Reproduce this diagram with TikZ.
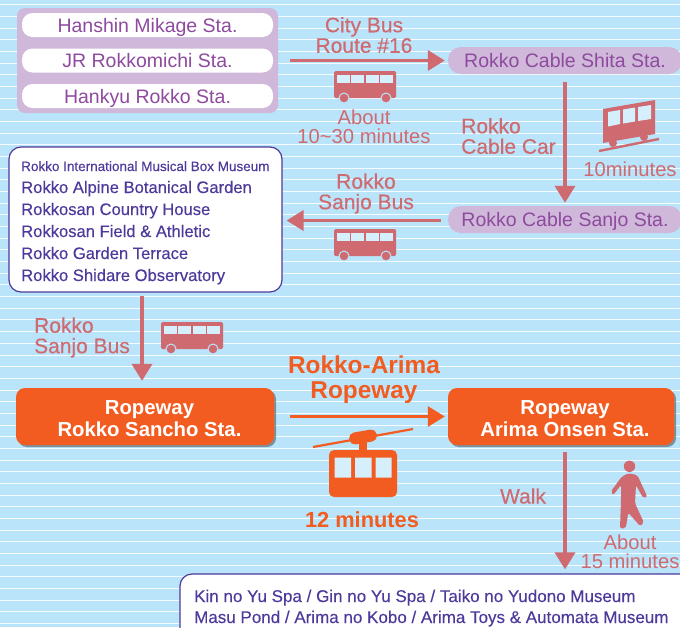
\documentclass[tikz,border=0pt]{standalone}
\usepackage{fontspec}
\setmainfont{Liberation Sans}
\newfontfamily\medf[FakeBold=0.25]{Liberation Sans}
\newfontfamily\boldf{Liberation Sans Bold}
\usetikzlibrary{arrows.meta,shadows,calc}
\definecolor{sky}{HTML}{B9E4FA}
\definecolor{lilac}{HTML}{CFB8D9}
\definecolor{plum}{HTML}{8E4A9E}
\definecolor{rose}{HTML}{CF6A70}
\definecolor{ink}{HTML}{4F3A9C}
\definecolor{flame}{HTML}{F25C20}
\tikzset{
  pill/.style={rounded corners=10.5pt,inner sep=0pt,text=plum,font=\fontsize{19.5}{19.5}\selectfont,anchor=center,text height=18pt,text depth=4pt},
  whitepill/.style={pill,fill=white,minimum width=251pt,minimum height=24pt},
  lilacpill/.style={pill,fill=lilac,minimum width=234pt,minimum height=27pt,rounded corners=13pt},
  panelbox/.style={fill=lilac,rounded corners=8pt,minimum width=261pt,minimum height=105pt,inner sep=0pt},
  conn/.style={draw=rose,line width=3.6pt,-{Triangle[width=20pt,length=17pt]}},
  oconn/.style={draw=flame,line width=3pt,-{Triangle[width=20pt,length=17pt]}},
  lab/.style={text=rose,align=center,font=\medf\fontsize{21}{20.5}\selectfont,inner sep=0pt},
  sublab/.style={text=rose,align=center,font=\fontsize{20.2}{19.5}\selectfont,inner sep=0pt},
  olab/.style={text=flame,align=center,font=\boldf\fontsize{24.4}{25.5}\selectfont,inner sep=0pt},
  station/.style={fill=flame,rounded corners=9pt,text=white,align=center,inner sep=0pt,
     font=\boldf\fontsize{20.3}{22}\selectfont,minimum height=57pt,
     drop shadow={shadow xshift=2pt,shadow yshift=-2pt,opacity=.55,fill=black!70}},
  listbox/.style={draw=ink,fill=white,line width=1.2pt,rounded corners=12pt,inner sep=0pt},
  listtext/.style={text=ink,inner sep=0pt,anchor=west,text height=16pt,text depth=4pt,font=\medf\fontsize{16.6}{16.6}\selectfont},
  busicon/.pic={
    \fill[rose,rounded corners=1.5pt] (0,0) rectangle (62,27);
    \foreach \a/\b in {2.8/15.8,17/30,31.5/44.5,46/59}{\fill[white!40!sky] (\a,3.5) rectangle (\b,12);}
    \foreach \c in {10,52}{\fill[rose,draw=sky,line width=1pt] (\c,27) circle (5pt);}
  },
}
\begin{document}
\begin{tikzpicture}[x=1pt,y=-1pt]
\useasboundingbox (0,0) rectangle (680,627);
\clip (0,0) rectangle (680,627);
\fill[sky] (0,0) rectangle (680,627);
\foreach \k in {0,...,53}{\draw[white!85!sky,line width=1pt] (0,{4.9+11.67*\k}) -- (680,{4.9+11.67*\k});}

% nodes
\node[panelbox] (panel) at (147.5,60.5) {};
\node[whitepill] (mikage) at (147.5,25) {Hanshin Mikage Sta.};
\node[whitepill] (rokkomichi) at (147.5,60.5) {JR Rokkomichi Sta.};
\node[whitepill] (hankyu) at (147.5,96) {Hankyu Rokko Sta.};
\node[lilacpill] (shita) at (565,60.5) {Rokko Cable Shita Sta.};
\node[lilacpill] (sanjo) at (565,219.5) {Rokko Cable Sanjo Sta.};
\node[listbox,minimum width=273pt,minimum height=145pt] (museums) at (145.5,219.5) {};
\node[listtext,font=\medf\fontsize{13.5}{13.5}\selectfont] (m1) at (21,165) {Rokko International Musical Box Museum};
\node[listtext] (m2) at (21,187) {Rokko Alpine Botanical Garden};
\node[listtext] (m3) at (21,209) {Rokkosan Country House};
\node[listtext] (m4) at (21,231) {Rokkosan Field \& Athletic};
\node[listtext] (m5) at (21,253) {Rokko Garden Terrace};
\node[listtext] (m6) at (21,275) {Rokko Shidare Observatory};
\node[station,minimum width=258pt] (sancho) at (145,416.5) {\rule{0pt}{17.6pt}\hspace*{9pt}Ropeway\\\hspace*{9pt}Rokko Sancho Sta.};
\node[station,minimum width=226pt] (onsen) at (561,416.5) {\rule{0pt}{17.6pt}\hspace*{8pt}Ropeway\\\hspace*{8pt}Arima Onsen Sta.};
\node[listbox,minimum width=520pt,minimum height=70pt] (spa) at (440,609) {};
\node[listtext,font=\medf\fontsize{17}{17}\selectfont] (s1) at (194,596) {Kin no Yu Spa / Gin no Yu Spa / Taiko no Yudono Museum};
\node[listtext,font=\medf\fontsize{17}{17}\selectfont] (s2) at (194,617) {Masu Pond / Arima no Kobo / Arima Toys \& Automata Museum};

% connectors
\draw[conn] ([xshift=12pt]panel.east) -- ([xshift=-3pt]shita.west);
\draw[conn] ([yshift=-8pt]shita.south) -- ([yshift=3pt]sanjo.north);
\draw[conn] ([xshift=-7pt,yshift=-1pt]sanjo.west) -- ([xshift=4pt,yshift=-1pt]museums.east |- sanjo.west);
\draw[conn] ([xshift=-3.5pt,yshift=-3pt]museums.south) -- ([xshift=-3pt,yshift=7pt]sancho.north);
\draw[oconn] ([xshift=16pt]sancho.east) -- ([xshift=-3pt]onsen.west);
\draw[conn] ([xshift=4pt,yshift=-7pt]onsen.south) -- ([xshift=4pt,yshift=4pt]onsen.south |- spa.north);

% labels
\node[lab] (citybus) at (364,35) {City Bus\\Route \#16};
\node[sublab] (about1) at (364,127) {About\\10\textasciitilde30 minutes};
\node[lab] [align=left] (cablecar) at (508.5,136) {Rokko\\Cable Car};
\node[sublab] (ten) at (630,169) {10minutes};
\node[lab] (bus2) at (366,193.5) {Rokko\\Sanjo Bus};
\node[lab,align=left] (bus3) at (82,337.5) {Rokko\\Sanjo Bus};
\node[olab] (ropeway) at (364,379.5) {Rokko-Arima\\Ropeway};
\node[text=flame,inner sep=0pt,font=\boldf\fontsize{21.8}{22}\selectfont] (twelve) at (362,519.5) {12 minutes};
\node[lab] (walk) at (523,496) {Walk};
\node[sublab] (about2) at (630,552) {About\\15 minutes};

% icons
\pic at (334,71) {busicon};
\pic at (334,229) {busicon};
\pic at (161,322) {busicon};

% cable car
\fill[rose] (603,109) -- (655,100) -- (655,134) -- (603,143) -- cycle;
\fill[white!40!sky] (608,112) -- (620,110) -- (620,124) -- (608,126.5) -- cycle;
\fill[white!40!sky] (623,109.5) -- (635,107.5) -- (635,121.5) -- (623,123.5) -- cycle;
\fill[white!40!sky] (638,107) -- (651,105) -- (651,119) -- (638,121) -- cycle;
\draw[rose,line width=2.4pt] (599,151) -- (659,139);
\fill[rose] (613,143) circle (4pt) (644,137) circle (4pt);

% gondola
\draw[flame,line width=2.2pt] (313,447) -- (413,429);
\fill[flame,rotate around={10:(363,437)},rounded corners=5.5pt] (349,431) rectangle (377,443);
\fill[flame] (359,437) rectangle (367,452);
\fill[flame,rounded corners=5pt] (329,450) rectangle (397,497);
\fill[white!40!sky] (334.5,457.5) rectangle (351,477.5) (355,457.5) rectangle (371.5,477.5) (375.5,457.5) rectangle (391.5,477.5);

% walker
\fill[rose] (629.5,466.3) circle (5.7pt);
\fill[rose,rounded corners=2pt] (628.3,473.3) -- (637.3,475) -- (647.3,496.7) -- (643.3,498.3) -- (636,485) -- (635,503.3) -- (644,522.7) -- (640,526) -- (628.3,512.7) -- (625.7,528.3) -- (620,528.3) -- (621,500) -- (621,485) -- (613.3,495) -- (610.7,491.7) -- (621.7,476.7) -- cycle;
\end{tikzpicture}
\end{document}
